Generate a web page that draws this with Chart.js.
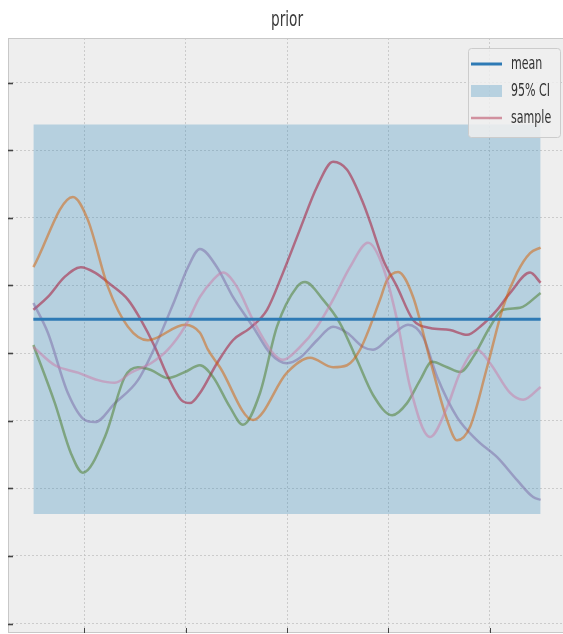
<!DOCTYPE html>
<html>
<head>
<meta charset="utf-8">
<title>prior</title>
<script src="https://cdn.jsdelivr.net/npm/chart.js@4.4.1/dist/chart.umd.min.js"></script>
<style>
  html, body { margin: 0; padding: 0; background: #fff; overflow: hidden; }
  #wrap { width: 563px; height: 634px; overflow: hidden; }
</style>
</head>
<body>
<div id="wrap"><canvas id="priorChart" width="580" height="640"></canvas></div>
<script>
// GP prior: mean, 95% interval and five sampled functions
var bandX = [-2.5, 2.5];
var meanY = [0, 0];
var ciLow = [-2.88, -2.88];
var ciHigh = [2.88, 2.88];

var xTicks = [-2, -1, 0, 1, 2];
var yTicks = [-4.5, -3.5, -2.5, -1.5, -0.5, 0.5, 1.5, 2.5, 3.5];

var redX = [-2.5, -2.357, -2.189, -2.032, -1.893, -1.736, -1.568, -1.44, -1.302, -1.174, -1.045, -0.957, -0.858, -0.69, -0.533, -0.365, -0.197, -0.039, 0.128, 0.296, 0.454, 0.592, 0.75, 0.819, 0.947, 1.085, 1.243, 1.41, 1.607, 1.775, 1.903, 2.071, 2.199, 2.396, 2.5];
var redY = [0.14, 0.33, 0.63, 0.77, 0.69, 0.51, 0.29, -0.01, -0.41, -0.85, -1.19, -1.24, -1.09, -0.65, -0.31, -0.13, 0.14, 0.69, 1.33, 1.96, 2.33, 2.21, 1.72, 1.44, 0.88, 0.48, -0.01, -0.13, -0.16, -0.23, -0.11, 0.14, 0.39, 0.69, 0.54];

var purpleX = [-2.5, -2.357, -2.16, -1.992, -1.893, -1.696, -1.469, -1.302, -1.105, -0.976, -0.858, -0.69, -0.533, -0.335, -0.168, 0, 0.128, 0.296, 0.454, 0.592, 0.75, 0.848, 1.016, 1.193, 1.341, 1.479, 1.677, 1.874, 2.071, 2.268, 2.426, 2.5];
var purpleY = [0.24, -0.2, -1.09, -1.49, -1.52, -1.24, -0.9, -0.41, 0.29, 0.77, 1.04, 0.77, 0.33, -0.11, -0.5, -0.65, -0.57, -0.31, -0.11, -0.2, -0.41, -0.45, -0.26, -0.08, -0.26, -0.85, -1.45, -1.79, -2.04, -2.38, -2.63, -2.67];

var greenX = [-2.5, -2.288, -2.13, -2.012, -1.795, -1.598, -1.469, -1.341, -1.174, -1.006, -0.858, -0.73, -0.562, -0.434, -0.266, -0.099, 0.099, 0.178, 0.355, 0.523, 0.69, 0.848, 1.036, 1.183, 1.312, 1.43, 1.578, 1.706, 1.834, 2.002, 2.13, 2.298, 2.5];
var greenY = [-0.38, -1.24, -1.98, -2.27, -1.74, -0.85, -0.71, -0.75, -0.87, -0.78, -0.68, -0.85, -1.3, -1.56, -1.09, -0.11, 0.48, 0.55, 0.29, -0.06, -0.6, -1.12, -1.42, -1.24, -0.9, -0.63, -0.71, -0.78, -0.56, -0.11, 0.14, 0.17, 0.39];

var orangeX = [-2.5, -2.11, -1.963, -1.765, -1.568, -1.371, -1.006, -0.858, -0.779, -0.661, -0.335, 0, 0.227, 0.454, 0.592, 0.72, 0.917, 0.986, 1.095, 1.243, 1.41, 1.578, 1.677, 1.805, 1.972, 2.13, 2.268, 2.396, 2.5];
var orangeY = [0.77, 1.81, 1.47, 0.48, -0.11, -0.31, -0.08, -0.2, -0.45, -0.71, -1.49, -0.79, -0.57, -0.71, -0.68, -0.45, 0.29, 0.58, 0.7, 0.33, -0.6, -1.49, -1.79, -1.59, -0.71, 0.18, 0.69, 0.98, 1.06];

var pinkX = [-2.5, -2.288, -2.061, -1.864, -1.696, -1.538, -1.341, -1.174, -1.006, -0.858, -0.73, -0.631, -0.493, -0.335, -0.138, -0.039, 0.128, 0.296, 0.454, 0.621, 0.799, 0.947, 1.085, 1.213, 1.41, 1.578, 1.706, 1.874, 2.002, 2.199, 2.327, 2.5];
var pinkY = [-0.41, -0.68, -0.79, -0.9, -0.94, -0.79, -0.65, -0.45, -0.11, 0.33, 0.58, 0.69, 0.48, -0.01, -0.5, -0.6, -0.41, -0.11, 0.29, 0.77, 1.13, 0.77, -0.01, -1.0, -1.74, -1.3, -0.79, -0.45, -0.65, -1.09, -1.19, -1.0];

var meanColor = '#2e7ab5';
var bandColor = 'rgba(52, 138, 189, 0.3)';
var sampleAlpha = 0.5;

function pts(xs, ys) {
    return xs.map(function (x, i) { return { x: x, y: ys[i] }; });
}

function sample(xs, ys, rgb) {
    return {
        label: 'sample',
        data: pts(xs, ys),
        borderColor: 'rgba(' + rgb + ',' + sampleAlpha + ')',
        borderWidth: 2.5,
        cubicInterpolationMode: 'monotone',
        fill: false
    };
}

// matplotlib-ish axes: grey face, light frame, inward ticks, squeezed text
var axesFrame = {
    id: 'axesFrame',
    beforeDraw: function (chart) {
        var a = chart.chartArea, ctx = chart.ctx;
        ctx.save();
        ctx.fillStyle = '#eeeeee';
        ctx.fillRect(a.left, a.top, a.right - a.left, a.bottom - a.top);
        ctx.restore();
    },
    afterDraw: function (chart) {
        var a = chart.chartArea, ctx = chart.ctx;
        var xs = chart.scales.x, ys = chart.scales.y;
        ctx.save();
        ctx.strokeStyle = '#c8c8c8';
        ctx.lineWidth = 1;
        ctx.strokeRect(a.left + 0.5, a.top + 0.5, a.right - a.left - 1, a.bottom - a.top - 1);

        ctx.strokeStyle = '#444';
        ctx.lineWidth = 1.6;
        ys.ticks.forEach(function (t) {
            var y = Math.round(ys.getPixelForValue(t.value)) + 0.5;
            ctx.beginPath();
            ctx.moveTo(a.left, y);
            ctx.lineTo(a.left + 5, y);
            ctx.stroke();
        });
        ctx.lineWidth = 1;
        xs.ticks.forEach(function (t) {
            var x = Math.round(xs.getPixelForValue(t.value)) + 0.5;
            ctx.beginPath();
            ctx.moveTo(x, a.bottom);
            ctx.lineTo(x, a.bottom - 5);
            ctx.stroke();
        });

        // title
        ctx.save();
        ctx.translate((a.left + a.right) / 2, 26);
        ctx.scale(0.65, 1);
        ctx.font = '21px "DejaVu Sans"';
        ctx.textAlign = 'center';
        ctx.fillStyle = '#3a3a3a';
        ctx.fillText('prior', 0, 0);
        ctx.restore();

        // legend box
        var bx = a.right - 98, by = a.top + 10, bw = 92, bh = 89;
        ctx.fillStyle = 'rgba(238, 238, 238, 0.85)';
        ctx.strokeStyle = '#cccccc';
        ctx.lineWidth = 1;
        ctx.beginPath();
        ctx.roundRect(bx + 0.5, by + 0.5, bw, bh, 3);
        ctx.fill();
        ctx.stroke();

        var items = [
            { label: 'mean', kind: 'line', color: meanColor, width: 3 },
            { label: '95% CI', kind: 'patch', color: bandColor },
            { label: 'sample', kind: 'line', color: 'rgba(166, 6, 40, 0.4)', width: 2.5 }
        ];
        items.forEach(function (it, i) {
            var ry = by + 16 + i * 27;
            if (it.kind === 'line') {
                ctx.strokeStyle = it.color;
                ctx.lineWidth = it.width;
                ctx.beginPath();
                ctx.moveTo(bx + 3, ry);
                ctx.lineTo(bx + 34, ry);
                ctx.stroke();
            } else {
                ctx.fillStyle = it.color;
                ctx.fillRect(bx + 3, ry - 6, 31, 12);
            }
            ctx.save();
            ctx.translate(bx + 43, ry + 5);
            ctx.scale(0.65, 1);
            ctx.font = '17px "DejaVu Sans"';
            ctx.fillStyle = '#333';
            ctx.fillText(it.label, 0, 0);
            ctx.restore();
        });
        ctx.restore();
    }
};

var ctx = document.getElementById('priorChart').getContext('2d');
var priorChart = new Chart(ctx, {
    type: 'line',
    data: {
        datasets: [
            {
                label: 'mean',
                data: pts(bandX, meanY),
                borderColor: meanColor,
                borderWidth: 3,
                fill: false
            },
            sample(pinkX, pinkY, '204, 121, 167'),
            sample(orangeX, orangeY, '213, 94, 0'),
            sample(greenX, greenY, '70, 120, 33'),
            sample(purpleX, purpleY, '122, 104, 166'),
            sample(redX, redY, '166, 6, 40'),
            {
                label: '95% CI',
                data: pts(bandX, ciHigh),
                borderColor: 'transparent',
                borderWidth: 0,
                backgroundColor: bandColor,
                fill: '+1'
            },
            {
                label: 'ci-low',
                data: pts(bandX, ciLow),
                borderColor: 'transparent',
                borderWidth: 0,
                fill: false
            }
        ]
    },
    options: {
        responsive: false,
        animation: false,
        devicePixelRatio: 1,
        layout: { padding: { left: 8, top: 38, right: 14, bottom: 7 } },
        elements: { point: { radius: 0, hoverRadius: 0 } },
        plugins: {
            legend: { display: false },
            title: { display: false },
            tooltip: { enabled: false }
        },
        scales: {
            x: {
                type: 'linear',
                min: -2.75,
                max: 2.75,
                afterBuildTicks: function (scale) {
                    scale.ticks = xTicks.map(function (v) { return { value: v }; });
                },
                ticks: { display: false },
                grid: { color: '#c2c2c2', lineWidth: 0.8, drawTicks: false },
                border: { display: false, dash: [2, 2] }
            },
            y: {
                type: 'linear',
                min: -4.64,
                max: 4.16,
                afterBuildTicks: function (scale) {
                    scale.ticks = yTicks.map(function (v) { return { value: v }; });
                },
                ticks: { display: false },
                grid: { color: '#c2c2c2', lineWidth: 0.8, drawTicks: false },
                border: { display: false, dash: [2, 2] }
            }
        }
    },
    plugins: [axesFrame]
});
</script>
</body>
</html>
